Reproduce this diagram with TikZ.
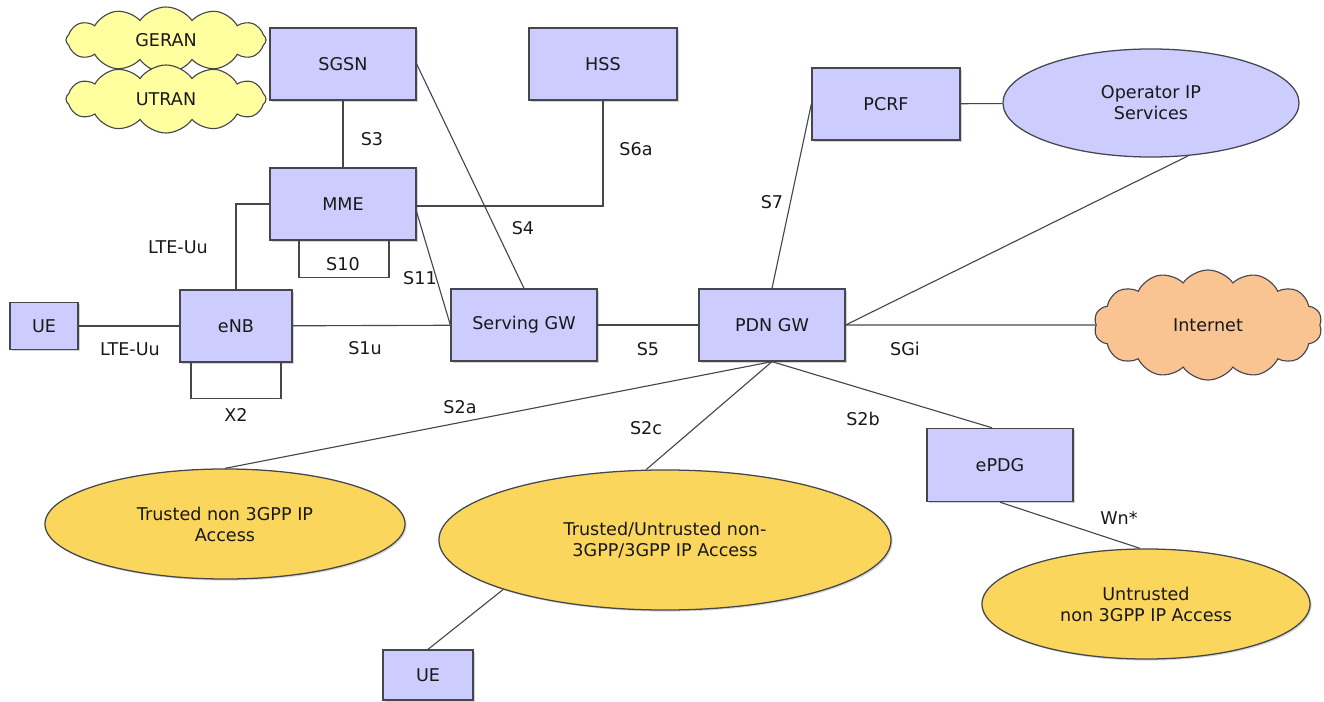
\documentclass[tikz,border=0pt]{standalone}
\usepackage{fontspec}
\setmainfont{DejaVu Sans}
\usetikzlibrary{shapes.geometric,shapes.symbols,shadows,calc}

\definecolor{boxblue}{RGB}{204,204,255}
\definecolor{edgegray}{RGB}{70,70,78}
\definecolor{accyellow}{RGB}{250,214,92}
\definecolor{cloudyellow}{RGB}{255,255,160}
\definecolor{cloudorange}{RGB}{250,196,146}

\tikzset{
  every node/.style={font=\fontsize{12.5}{15}\selectfont, text=black!90},
  netbox/.style={draw=edgegray, line width=0.9pt, fill=boxblue, inner sep=0pt,
    drop shadow={opacity=0.35, shadow xshift=0.04cm, shadow yshift=-0.04cm}},
  accbubble/.style={ellipse, draw=edgegray, line width=0.9pt, fill=accyellow, inner sep=0pt,
    align=center, drop shadow={opacity=0.3, shadow xshift=0.04cm, shadow yshift=-0.04cm}},
  ranpuff/.style={cloud, cloud ignores aspect, cloud puffs=12, cloud puff arc=110, draw=edgegray,
    line width=0.8pt, fill=cloudyellow, inner sep=0pt},
  link/.style={draw=edgegray, line width=0.8pt}
}

\begin{document}
\begin{tikzpicture}[x=0.025cm, y=-0.025cm]
\useasboundingbox (0,0) rectangle (1324,702);

% radio access clouds
\node [ranpuff, minimum width=5.0cm, minimum height=1.65cm] (geran) at (166,40) {GERAN};
\node [ranpuff, minimum width=5.0cm, minimum height=1.7cm] (utran) at (166,99) {UTRAN};

% core boxes
\node [netbox, minimum width=3.65cm, minimum height=1.8cm] (sgsn) at (343,64) {SGSN};
\node [netbox, minimum width=3.7cm, minimum height=1.8cm] (hss) at (603,64) {HSS};
\node [netbox, minimum width=3.65cm, minimum height=1.8cm] (mme) at (343,204) {MME};
\node [netbox, minimum width=1.7cm, minimum height=1.18cm] (ue) at (44,326) {UE};
\node [netbox, minimum width=2.8cm, minimum height=1.8cm] (enb) at (236,326) {eNB};
\node [netbox, minimum width=3.65cm, minimum height=1.8cm] (sgw) at (524,325) {Serving GW};
\node [netbox, minimum width=3.65cm, minimum height=1.8cm] (pdn) at (772,325) {PDN GW};
\node [netbox, minimum width=3.7cm, minimum height=1.8cm] (pcrf) at (886,104) {PCRF};
\node [netbox, minimum width=3.65cm, minimum height=1.83cm] (epdg) at (1000,465) {ePDG};
\node [netbox, minimum width=2.25cm, minimum height=1.25cm] (uetwo) at (428,675) {UE};

% ellipses and internet
\node [ellipse, draw=edgegray, line width=0.9pt, fill=boxblue, inner sep=0pt, align=center,
  minimum width=7.4cm, minimum height=2.7cm] (ops) at (1151,103) {Operator IP\\Services};
\node [cloud, cloud ignores aspect, cloud puffs=14, cloud puff arc=110, draw=edgegray, line width=0.8pt,
  fill=cloudorange, inner sep=0pt, minimum width=5.7cm, minimum height=2.75cm] (inet) at (1208,325) {Internet};
\node [accbubble, minimum width=9cm, minimum height=2.75cm] (trusted) at (225,524) {Trusted non 3GPP IP\\Access};
\node [accbubble, minimum width=11.3cm, minimum height=3.5cm] (mixed) at (665,540) {Trusted/Untrusted non-\\3GPP/3GPP IP Access};
\node [accbubble, minimum width=8.2cm, minimum height=2.75cm] (untrusted) at (1146,604) {Untrusted\\non 3GPP IP Access};

% connectors
\draw [link] (sgsn) -- (mme);
\draw [link] (mme.west) -| (enb.north);
\draw [link] ($(mme.south)+(-44,0)$) -- ++(0,37) -| ($(mme.south)+(46,0)$); % S10
\draw [link] ($(enb.south)+(-45,0)$) -- ++(0,36) -| ($(enb.south)+(45,0)$); % X2
\draw [link] (ue) -- (enb);
\draw [link] (enb) -- (sgw);
\draw [link] (hss.south) |- ($(mme.east)+(0,2)$);
\draw [link] (sgsn.east) -- (sgw.north);
\draw [link] ($(mme.east)+(0,8)$) -- (sgw.west);
\draw [link] (sgw) -- (pdn);
\draw [link] (pdn.north) -- (pcrf.west);
\draw [link] (pcrf) -- (ops);
\draw [link] (pdn.east) -- (ops.-55);
\draw [link] (pdn.east) -- (inet.west);
\draw [link] (pdn.south) -- (trusted.north);
\draw [link] (pdn.south) -- (mixed.105);
\draw [link] (pdn.south) -- ($(epdg.north)+(-8,0)$);
\draw [link] (epdg.south) -- ($(untrusted.north)+(-6,0)$);
\draw [link] (uetwo.north) -- (mixed.197);

% interface labels
\node (lteupper) at (178,247) {LTE-Uu};
\node (ltelower) at (130,349) {LTE-Uu};
\node (sthree) at (372,139) {S3};
\node (sten) at (343,264) {S10};
\node (xtwo) at (236,415) {X2};
\node (sone) at (365,348) {S1u};
\node (seleven) at (420,278) {S11};
\node (sfour) at (523,228) {S4};
\node (ssix) at (636,149) {S6a};
\node (sfive) at (648,349) {S5};
\node (sseven) at (772,202) {S7};
\node (sgi) at (905,349) {SGi};
\node (stwoa) at (460,407) {S2a};
\node (stwoc) at (646,428) {S2c};
\node (stwob) at (863,419) {S2b};
\node (wn) at (1119,518) {Wn*};

\end{tikzpicture}
\end{document}
